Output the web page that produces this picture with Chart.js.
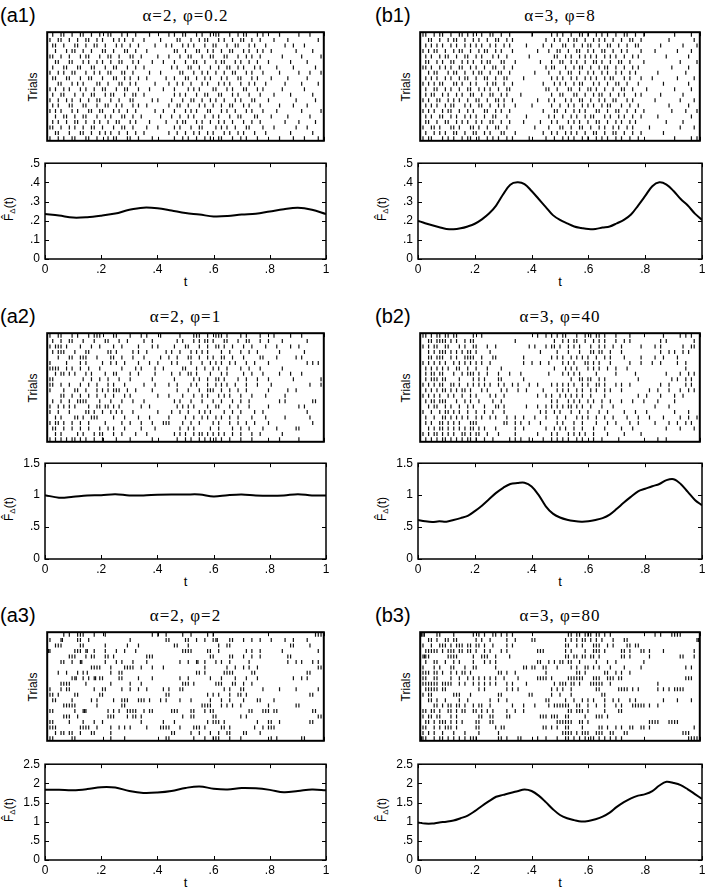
<!DOCTYPE html>
<html>
<head>
<meta charset="utf-8">
<script src="https://cdn.jsdelivr.net/npm/chart.js@4/dist/chart.umd.min.js"></script>
<style>
  body { margin: 0; background: #fff; width: 708px; height: 894px; position: relative; overflow: hidden; font-family: "Liberation Sans", Arial, sans-serif; color: #000; }
  canvas { position: absolute; }
  .lab { position: absolute; white-space: nowrap; line-height: 1; transform: translate(-50%, -50%); }
  .rot { font-size: 12px; transform: translate(-50%, -50%) rotate(-90deg); }
  .panel { font-size: 20px; transform: translate(0, -50%); }
  .title { font-family: "Liberation Serif", "Times New Roman", serif; font-size: 17px; letter-spacing: 1px; }
  .tl { font-size: 13px; }
  sub { font-size: 8px; vertical-align: -2px; }
</style>
</head>
<body>
<script>
// time grids of the estimated rate curves
const tA = [0, 0.05, 0.1, 0.15, 0.2, 0.25, 0.3, 0.35, 0.4, 0.45, 0.5, 0.55, 0.6, 0.65, 0.7, 0.75, 0.8, 0.85, 0.9, 0.95, 1];
const tB = [0, 0.025, 0.05, 0.075, 0.1, 0.125, 0.15, 0.175, 0.2, 0.225, 0.25, 0.275, 0.3, 0.325, 0.35, 0.375, 0.4,
  0.425, 0.45, 0.475, 0.5, 0.525, 0.55, 0.575, 0.6, 0.625, 0.65, 0.675, 0.7, 0.725, 0.75, 0.775, 0.8, 0.825, 0.85,
  0.875, 0.9, 0.925, 0.95, 0.975, 1];

const curveA1 = [0.235, 0.227, 0.216, 0.218, 0.226, 0.237, 0.257, 0.268, 0.265, 0.253, 0.24, 0.232, 0.222, 0.224, 0.232, 0.236, 0.248, 0.26, 0.267, 0.257, 0.235];
const curveA2 = [1.0, 0.96, 0.975, 0.995, 1.0, 1.015, 0.995, 0.995, 1.005, 1.01, 1.01, 1.01, 0.98, 1.0, 1.01, 0.995, 0.99, 0.995, 1.015, 0.995, 0.995];
const curveA3 = [1.83, 1.83, 1.82, 1.85, 1.9, 1.89, 1.8, 1.75, 1.76, 1.8, 1.88, 1.92, 1.86, 1.84, 1.88, 1.87, 1.83, 1.77, 1.8, 1.84, 1.82];
const curveB1 = [0.199, 0.187, 0.176, 0.166, 0.157, 0.155, 0.16, 0.17, 0.184, 0.207, 0.237, 0.279, 0.338, 0.388, 0.4, 0.391, 0.355,
  0.313, 0.271, 0.229, 0.204, 0.186, 0.17, 0.162, 0.156, 0.157, 0.164, 0.17, 0.186, 0.204, 0.232, 0.279, 0.329, 0.38, 0.4,
  0.388, 0.355, 0.313, 0.279, 0.237, 0.204];
const curveB2 = [0.61, 0.59, 0.58, 0.59, 0.585, 0.61, 0.64, 0.675, 0.75, 0.835, 0.935, 1.035, 1.115, 1.175, 1.19, 1.195, 1.135,
  1.0, 0.825, 0.71, 0.65, 0.615, 0.595, 0.585, 0.59, 0.61, 0.64, 0.695, 0.785, 0.885, 0.975, 1.06, 1.1, 1.14, 1.175,
  1.235, 1.25, 1.175, 1.05, 0.925, 0.84];
const curveB3 = [0.98, 0.95, 0.95, 0.98, 1.0, 1.03, 1.09, 1.16, 1.275, 1.41, 1.535, 1.65, 1.7, 1.75, 1.795, 1.84, 1.8,
  1.68, 1.51, 1.325, 1.175, 1.09, 1.04, 1.005, 1.02, 1.065, 1.13, 1.235, 1.385, 1.51, 1.61, 1.68, 1.72, 1.8, 1.945,
  2.04, 2.01, 1.955, 1.845, 1.72, 1.595];

// spike times per trial (top trial first), in hundredths of t
const spikesA1 = [
  [0,2,5,6,9,12,13,16,19,22,23,27,29,32,37,44,46,49,50,54,56,59,61,62,66,69,71,72,76,78,84,91,95],
  [1,4,5,8,11,14,15,18,20,24,26,28,31,35,41,47,48,52,55,57,58,62,64,67,70,71,74,77,82,87,98],
  [2,3,6,10,11,14,17,18,21,25,27,30,33,39,43,45,49,51,53,57,60,61,65,68,69,73,75,79,86,89,93],
  [0,3,7,9,10,13,16,20,21,24,28,29,32,36,46,47,50,54,55,58,60,63,66,67,71,73,76,78,81,90,96],
  [1,2,5,8,12,14,15,19,22,23,26,30,31,34,40,44,48,51,52,56,59,60,64,65,69,72,74,77,85,92,99],
  [3,4,8,9,13,15,18,20,23,26,27,31,33,38,42,46,50,53,54,57,61,63,64,68,70,73,76,80,88,94],
  [0,2,6,7,11,12,16,17,21,24,25,29,32,35,45,47,51,52,55,59,62,65,66,69,71,75,77,83,89,97],
  [1,4,6,9,10,14,17,19,22,23,27,28,31,37,41,48,49,53,56,58,61,64,67,68,72,74,78,84,91,95,99],
  [2,3,7,8,12,15,16,20,24,25,28,30,33,36,43,46,50,51,54,57,59,63,65,69,70,74,76,81,87,94],
  [0,4,5,9,11,13,18,19,22,26,27,30,32,39,44,47,49,52,56,58,62,64,66,70,73,75,79,86,92,98],
  [1,3,6,8,12,14,17,20,21,25,28,29,33,37,42,46,51,53,55,60,61,65,67,71,72,76,78,85,93],
  [2,5,6,10,13,16,17,21,23,24,28,31,32,35,46,48,50,54,57,58,62,63,67,69,73,77,82,88,96],
  [0,1,4,7,9,12,15,18,19,23,26,30,31,38,40,45,49,52,53,56,59,61,64,68,70,74,75,80,90,97],
  [2,4,8,9,13,14,18,21,22,25,27,31,33,36,44,47,48,51,55,57,60,63,66,67,71,73,77,84,89,94],
  [1,3,5,9,11,15,16,19,20,24,26,29,32,39,42,46,50,52,54,58,59,63,65,68,72,74,78,83,92,99],
  [0,3,6,7,10,13,14,18,21,23,27,28,31,34,41,45,48,51,53,57,60,62,66,69,70,75,76,81,87,95],
  [2,4,7,10,11,14,17,19,22,25,26,30,32,37,43,47,49,50,54,56,59,62,64,67,71,74,77,86,91,97],
  [1,2,5,8,10,13,16,17,20,24,27,28,31,36,40,46,48,52,55,56,61,63,65,68,72,73,78,82,90,94],
  [0,3,4,8,12,13,16,19,21,23,26,29,32,35,44,47,50,53,55,58,60,64,66,69,71,75,79,88,96],
  [1,4,6,9,10,14,15,18,22,24,25,29,30,33,38,46,49,51,54,57,59,62,63,67,70,72,76,84,89,93,98]
];
const spikesB1 = [
  [1,2,5,7,8,11,14,15,17,19,22,25,26,29,32,40,47,49,51,54,57,58,60,63,65,67,70,73,74,77,80,91,97],
  [0,3,4,7,10,12,13,16,19,21,24,27,28,31,33,45,48,50,53,55,56,59,62,64,66,69,72,75,76,79,89,98],
  [2,4,6,8,11,13,16,18,20,22,25,27,30,32,38,44,47,51,52,55,58,60,61,64,67,68,71,74,77,78,86,94,99],
  [1,3,5,6,9,12,14,15,18,21,23,24,27,29,33,42,46,49,50,53,56,57,60,62,65,66,69,72,74,79,84,92,97],
  [0,2,4,7,9,10,13,16,17,20,22,26,28,31,39,48,49,52,54,57,59,61,63,66,68,70,73,76,78,88,96],
  [2,3,6,8,11,12,15,17,19,22,24,25,29,30,34,43,47,50,51,54,56,59,62,63,65,68,71,72,75,80,93,99],
  [1,2,4,7,9,11,14,15,18,20,23,26,27,30,33,45,47,48,52,55,57,58,61,64,66,67,70,73,76,78,90,96],
  [0,3,5,6,10,12,13,16,19,21,22,25,28,29,32,41,46,50,53,54,57,60,62,65,67,70,72,75,77,85,95],
  [2,4,6,9,11,14,16,17,20,23,24,27,30,31,37,47,49,51,54,56,59,61,63,66,68,69,73,75,79,83,92,98],
  [1,3,5,7,8,12,13,15,18,20,24,26,27,30,33,44,48,50,52,55,57,58,62,64,67,70,71,74,78,87,96],
  [0,2,5,6,9,11,14,17,18,21,23,25,28,31,32,45,46,49,53,54,57,60,61,63,66,69,72,73,76,81,91,97],
  [2,4,5,8,10,13,15,18,19,22,25,26,29,31,36,47,50,51,55,56,59,62,64,65,68,71,73,77,79,86,94],
  [1,3,6,7,10,12,14,17,20,21,24,27,28,30,33,42,46,48,52,54,57,58,61,64,66,69,70,74,76,84,93,98],
  [0,2,4,6,9,11,12,16,18,21,22,25,28,30,34,40,47,50,53,55,58,60,62,65,67,68,72,75,78,89,96],
  [1,3,5,8,10,11,14,17,19,23,24,27,29,32,44,48,49,52,55,57,59,63,64,67,70,71,74,77,80,90,95,99],
  [0,2,4,7,8,11,13,16,18,20,23,26,27,31,38,46,48,51,54,56,59,61,62,66,68,71,73,76,79,85,97],
  [2,3,6,9,10,13,15,17,20,22,25,26,29,32,37,43,47,49,53,55,57,60,63,64,67,70,72,75,77,88,94],
  [1,4,5,7,11,12,14,18,19,21,24,27,28,31,41,46,50,51,54,57,58,61,64,66,69,71,74,76,82,93,98],
  [0,2,5,7,9,12,13,16,19,20,23,25,29,30,34,44,47,49,52,54,56,59,62,63,66,69,70,73,76,79,87],
  [1,3,4,8,10,12,15,17,18,21,24,26,28,31,33,39,45,48,51,53,55,58,60,63,65,67,70,72,75,78,91,97,99]
];
const spikesA2 = [
  [1,4,5,9,11,15,17,18,19,24,25,30,34,36,41,48,53,54,55,58,61,62,63,65,70,72,77,82,88,92],
  [2,5,8,9,13,17,21,22,26,29,35,38,47,49,53,55,57,58,60,64,65,69,72,73,77,80,85,94],
  [1,3,4,5,7,12,16,19,24,27,33,38,40,46,50,51,55,58,61,62,64,67,71,74,79,83,88,91],
  [0,2,4,5,6,10,14,15,22,23,25,31,33,36,43,45,48,52,54,56,58,63,66,70,73,76,84,93],
  [4,8,9,12,13,14,18,23,24,27,31,35,41,44,47,51,52,55,58,60,63,64,67,71,77,78,83,90,92],
  [1,7,12,14,20,23,25,28,33,37,40,45,47,52,56,59,61,63,66,68,72,75,80,94,96,98],
  [0,1,2,3,4,7,9,12,15,19,27,32,34,39,42,49,50,54,57,60,62,65,70,73,77,85],
  [3,5,6,8,10,14,16,21,24,25,30,33,39,45,48,51,52,54,59,63,65,71,74,78,84,88,92],
  [1,2,13,16,19,22,26,30,38,46,53,55,58,61,62,64,69,72,76,80,89,99],
  [0,1,2,5,8,12,15,18,22,24,28,35,39,44,47,52,54,58,61,63,65,68,72,76,81,95,99],
  [1,6,10,11,14,18,20,22,24,25,26,29,32,38,47,51,55,58,59,60,63,66,69,72,80,87,90],
  [0,5,6,9,12,15,18,21,24,28,30,40,44,49,53,56,58,62,64,66,70,74,79,86],
  [2,5,8,11,12,13,14,19,23,27,31,35,46,48,52,56,60,63,67,70,73,84,86,96,97],
  [1,4,6,8,10,15,18,19,21,22,24,26,34,37,47,49,51,53,58,61,62,66,69,73,80,91,93],
  [0,1,4,8,14,15,17,20,23,25,27,31,40,45,48,51,55,57,59,64,67,70,75,78,94],
  [3,5,10,11,13,16,17,18,24,28,33,37,44,50,53,56,58,61,63,66,69,74,79,86,95],
  [1,3,4,6,9,12,15,21,27,30,34,38,42,43,44,49,52,55,60,62,66,69,72,75,80,96],
  [2,3,6,9,12,15,19,22,24,28,34,39,48,51,53,59,62,67,70,73,78,83,90,91],
  [0,3,5,11,13,17,19,20,24,27,32,36,46,48,50,53,55,56,58,60,62,64,67,70,74,77,85],
  [1,3,5,7,9,10,12,14,17,20,25,30,38,47,50,52,55,57,59,61,63,66,70,74,84,91]
];
const spikesB2 = [
  [1,2,4,6,7,9,10,12,13,19,22,42,45,47,49,51,52,56,59,61,63,64,66,70,75,87,93,95,97],
  [3,4,6,7,8,9,11,13,16,18,19,34,48,51,53,55,56,59,62,64,66,70,73,75,86,88,98],
  [1,3,5,6,9,10,14,16,19,20,24,27,39,41,45,47,48,50,53,55,57,61,64,66,69,72,79,84,86,94,97,98],
  [0,3,5,7,8,9,11,13,15,17,18,20,25,43,49,53,57,61,62,64,65,68,72,86,89,91,94,96],
  [3,4,6,7,8,11,13,16,17,18,19,22,26,27,37,47,49,51,54,56,58,60,63,66,68,73,79,84,87,92],
  [1,3,5,7,9,12,14,16,18,20,22,25,37,40,43,46,51,53,55,59,60,62,64,68,75,79,83,86,92,95],
  [2,4,6,8,10,13,14,17,20,24,29,48,52,54,56,60,62,64,67,70,74,95],
  [0,2,4,5,7,8,12,15,17,18,19,21,24,28,32,36,46,51,53,55,57,63,70,77,88,93,96,98],
  [2,4,5,6,8,9,14,19,21,23,28,29,37,54,57,58,60,61,64,66,78,90,92,95,97],
  [1,3,5,7,8,11,12,14,17,19,21,23,25,28,30,33,35,39,42,47,49,51,53,55,58,60,63,64,66,70,72,75,86,89,95,97],
  [0,2,4,6,8,9,11,13,15,16,18,22,24,29,31,35,38,44,49,51,53,56,58,61,63,66,68,72,82,85,89,93,96,98],
  [1,3,5,7,10,12,15,18,20,25,27,30,42,45,47,50,52,54,56,58,61,66,78,81,86,91,94],
  [2,4,5,7,8,9,13,16,18,21,26,29,47,49,53,55,57,60,62,65,68,72,76,80,85,91],
  [0,3,5,6,9,11,14,17,19,23,27,28,30,38,42,45,47,49,51,53,54,56,58,61,65,69,84,89],
  [1,4,7,9,10,12,14,17,20,23,26,30,43,45,48,50,54,57,60,64,67,73,77,81,91,96],
  [0,2,5,8,9,11,13,15,17,20,22,25,27,31,34,37,41,45,49,52,56,58,60,63,66,69,74,78,82,87,93,96,99],
  [2,4,7,8,10,12,14,18,19,20,30,31,34,36,39,43,49,51,55,58,63,67,70,75,78,84,89,92,95,97],
  [0,3,5,7,8,10,12,14,16,18,19,21,23,27,34,37,45,48,50,52,55,58,62,66,72,76,88,93,98],
  [1,3,5,6,8,10,12,15,16,18,20,21,24,28,34,42,47,49,53,55,57,59,62,67,73,79],
  [0,2,4,6,8,9,11,13,15,17,18,20,23,26,32,34,36,39,44,47,49,51,53,56,58,62,65,71,85,88]
];
const spikesA3 = [
  [6,8,11,12,13,17,21,38,40,43,49,52,58,60,97,98,99],
  [0,1,5,5.5,11,12,15,30,43,44,50,51,54,57,60,61,61.5,66,67,71,74,77,81,86,89,94],
  [3,4,5,12,13,21,29,33,46,47,51,62,65,66,88,89,95],
  [0,0.5,1,10,11,12,14,14.5,17,21,25,28,32,49,50,51,52,58,59,62,72,74,77,85,98],
  [8,9,10,14,16,17,21,22,24,36,37,38,59,60,66,67,71,74,77,87,88],
  [0,5,6,9,12,12.5,21,25,27,31,36,48,51,54,54.5,57,61,63,66,73,87,90,92,96,98],
  [16,17,18,19,23,28,29,30,31,34,38,42,57,65,68,71,73,76,98,99],
  [4,7,11,13,14.5,23,26,27,54,55,57,64,65,66,67,74,75,94,95],
  [0,9,10,10.5,13,15,17,17.5,19,20,26,27,33,38,48,51,59,63,68,72,76,89,92,94],
  [5,6,7,8,14,23,30,34,49,50,51,53,61,62,63,67,68,71,74],
  [0,1,5,7,8,17,20,21,27,30,33,36,42,44,48,49,64,66,70,71,78,84,90,98],
  [0,1,2,4,10,11,19,20,43,44,58,60,62,66,69,70,72,95,96],
  [2,3,9,16,18,24,27,28,29,33,34,35,37,41,43,48,52,59,63,66,71,76,77,82],
  [6,7,8,9,10,18,27,28,56,57,58,59,63,65,67,70,80,90,91],
  [1,2,10,13,13.5,14,22,24,26,29,30,31,32,35,37,38,45,46,47,52,53,57,59,60,73,74,78,79,80,82,83,96,97],
  [6,7,8,11,22,23,24,29,31,32,34,49,52,53,60,61,70,72,98,99],
  [1,2,8,13,17,20,34,42,46,58,60,61,62,64,76,80,81,84,95,96],
  [1,2,3,12,13,14,15,18,23,26,28,30,36,41,42,43,44,48,53,54,55,57,63,64,66,75,78,80,81,82],
  [3,5,6,8,9,12,16,17,23,45,46,52,55,59,62,65,66,71,72,77],
  [0,1,2,9,10,23,28,43,44,53,57,60,61,62,66,70,81,83,92,93]
];
const spikesB3 = [
  [0,0.5,1,1.5,6,7,12,19,21,23,26,27,29,31,33,53,54,56,57,59,60,61,63,64,66,68,84,86,90,91,92,93],
  [3,4,6,9,10,12,13,20,22,25,31,34,40,41,52,54,56,58,59,61,63,65,69,73,74,99,99.5],
  [1,4,7,8,9,11,13,14,15,17,18,20,21,23,26,31,33,52,53,56,58,62,63,64,67,69,74,75,77,78],
  [0,2,3,4,5,6,8,10,11,12,14,15,17,18,20,23,25,29,31,42,43,44,52,54,59,62,63,64,66,72,73,75,79,80,82,87,98],
  [0,1,1.5,2,3,10,11,12,13,19,22,23,24,27,32,52,53,55,56,58,59,61,62,64,72,73,75,82,93,94,98],
  [2,5,6,9,12,14,19,23,25,27,42,43,46,48,50,51,53,54,57,63,67,70,80],
  [1,5,7,11,12,16,19,20,27,37,38,40,41,44,45,49,54,56,59,60,62,64,68,73,79,95,97],
  [0,1,2,3,5,6,8,11,13,15,16,18,28,29,31,34,45,56,57,59,66,67,70,72,75],
  [0,1,2,5,6,11,14,17,19,21,23,25,27,30,35,42,43,44,45,47,53,54,55,56,57,58,62,63,64,67,68,69,71,72,95,96,97],
  [1,2,3,4,5,6,8,9,10,11,14,16,19,21,23,25,27,31,33,38,48,50,51,52,54,55,57,61,62,63,64,65,68,85],
  [0,2,3,4,5,6,8,9,21,23,31,33,35,47,49,51,54,63,64,71,72,73,74,76,78,85,87,89,91,92,93,94],
  [0,1,3,4,12,13,14,18,28,29,39,40,47,50,54,65,66],
  [3,4,6,9,14,17,25,28,31,45,46,52,55,58,60,62,66,69,71,75,77,87,92,97],
  [5,6,8,10,11,13,14,16,19,21,22,25,33,37,41,46,48,49,50,51,52,53,56,57,60,63,66,70,72,76,77,78,79,80,82,85],
  [1,2,4,5,7,10,11,13,15,16,19,20,22,24,26,31,34,37,53,54,56,57,58,60,66,71,72],
  [0,1,3,4,6,7,11,13,21,22,25,26,31,32,43,44,45,47,48,49,52,53,59,63,64,65,67],
  [2,3,5,7,8,9,11,13,15,20,21,25,26,49,50,51,52,53,54,57,58,60,82,83,84,85,89,90,91,92],
  [1,2,5,7,9,10,11,13,20,21,27,29,30,44,45,47,49,52,53,58,64,65,67,70,72,75,76,79,80,82,98],
  [1,3,5,8,12,16,21,28,51,52,53,54,56,58,59,60,63,64,65,68,69,73,74,94,95,96],
  [0,0.5,1,2,5,7,8,10,12,14,16,18,19,20,28,29,31,35,36,42,45,49,52,53,55,57,59,61,62,64,66,68,70,72,96,97,98,99]
];

const xTickVals = [0, 0.2, 0.4, 0.6, 0.8, 1];
const xTickLabels = ['0', '.2', '.4', '.6', '.8', '1'];
const yVals1 = [0, 0.1, 0.2, 0.3, 0.4, 0.5];
const yLabels1 = ['0', '.1', '.2', '.3', '.4', '.5'];
const yVals2 = [0, 0.5, 1, 1.5];
const yLabels2 = ['0', '.5', '1', '1.5'];
const yVals3 = [0, 0.5, 1, 1.5, 2, 2.5];
const yLabels3 = ['0', '.5', '1', '1.5', '2', '2.5'];

const panelLabels = ['(a1)', '(b1)', '(a2)', '(b2)', '(a3)', '(b3)'];
const titles = ['α=2, φ=0.2', 'α=3, φ=8', 'α=2, φ=1', 'α=3, φ=40', 'α=2, φ=2', 'α=3, φ=80'];

const panels = [
  { spikes: spikesA1, t: tA, curve: curveA1, yv: yVals1, yl: yLabels1 },
  { spikes: spikesB1, t: tB, curve: curveB1, yv: yVals1, yl: yLabels1 },
  { spikes: spikesA2, t: tA, curve: curveA2, yv: yVals2, yl: yLabels2 },
  { spikes: spikesB2, t: tB, curve: curveB2, yv: yVals2, yl: yLabels2 },
  { spikes: spikesA3, t: tA, curve: curveA3, yv: yVals3, yl: yLabels3 },
  { spikes: spikesB3, t: tB, curve: curveB3, yv: yVals3, yl: yLabels3 }
];

// layout (px)
const colX = [45, 418], colW = [281, 284], labelX = [0, 375];
const rasterTop = [30, 331, 630], rasterH = 113;
const lineTop = [159, 459, 760], lineH = 100;

Chart.defaults.font.family = '"Liberation Sans", Arial, sans-serif';
Chart.defaults.font.size = 12;
Chart.defaults.color = '#000';

// box + inward ticks, MATLAB style
const frame = {
  id: 'frame',
  afterDatasetsDraw(chart, args, opts) {
    const { ctx, chartArea: a, scales } = chart;
    ctx.save();
    ctx.strokeStyle = '#000';
    ctx.lineWidth = 1;
    ctx.beginPath();
    for (const v of opts.xt) {
      const px = Math.round(scales.x.getPixelForValue(v)) + 0.5;
      ctx.moveTo(px, a.bottom); ctx.lineTo(px, a.bottom - 4);
      ctx.moveTo(px, a.top); ctx.lineTo(px, a.top + 4);
    }
    if (opts.yt) {
      for (const v of opts.yt) {
        const py = Math.round(scales.y.getPixelForValue(v)) + 0.5;
        ctx.moveTo(a.left, py); ctx.lineTo(a.left + 4, py);
        ctx.moveTo(a.right, py); ctx.lineTo(a.right - 4, py);
      }
    }
    ctx.stroke();
    ctx.lineWidth = opts.border;
    ctx.strokeRect(a.left, a.top, a.right - a.left, a.bottom - a.top);
    ctx.restore();
  }
};

function addCanvas(x, y, w, h) {
  const c = document.createElement('canvas');
  c.width = w; c.height = h;
  c.style.left = x + 'px'; c.style.top = y + 'px';
  c.style.width = w + 'px'; c.style.height = h + 'px';
  document.body.appendChild(c);
  return c;
}

function addLabel(html, x, y, cls) {
  const d = document.createElement('div');
  d.className = 'lab ' + (cls || '');
  d.innerHTML = html;
  d.style.left = x + 'px'; d.style.top = y + 'px';
  document.body.appendChild(d);
}

panels.forEach((p, k) => {
  const col = k % 2, row = Math.floor(k / 2);
  const x0 = colX[col], w = colW[col];
  const nTrials = p.spikes.length;

  addLabel(panelLabels[k], labelX[col], rasterTop[row] - 15, 'panel');
  addLabel(titles[k], x0 + w / 2, rasterTop[row] - 15, 'title');
  addLabel('Trials', x0 - 12, rasterTop[row] + rasterH / 2, 'rot');
  addLabel('F&#770;<sub>Δ</sub>(t)', x0 - 35, lineTop[row] + lineH / 2, 'rot');
  addLabel('t', x0 + w / 2, lineTop[row] + lineH + 22, 'tl');

  // raster
  const pts = [];
  p.spikes.forEach((trial, i) => {
    trial.forEach(s => pts.push({ x: s / 100, y: nTrials - i }));
  });
  const pad = 3;
  new Chart(addCanvas(x0 - pad, rasterTop[row] - pad, w + 2 * pad, rasterH + 2 * pad), {
    type: 'scatter',
    data: {
      datasets: [{
        data: pts,
        pointStyle: 'line',
        rotation: 90,
        radius: 2,
        borderWidth: 1.2,
        borderColor: '#111',
        backgroundColor: '#111'
      }]
    },
    options: {
      animation: false,
      responsive: false,
      devicePixelRatio: 1,
      events: [],
      layout: { padding: pad },
      plugins: { legend: { display: false }, tooltip: { enabled: false }, frame: { xt: xTickVals, border: 2 } },
      scales: {
        x: { type: 'linear', min: 0, max: 1, display: false },
        y: { type: 'linear', min: 0.55, max: nTrials + 0.45, display: false }
      }
    },
    plugins: [frame]
  });

  // rate curve
  const left = 45, top = 8, right = 10, bottom = 22;
  new Chart(addCanvas(x0 - left, lineTop[row] - top, w + left + right, lineH + top + bottom), {
    type: 'line',
    data: {
      datasets: [{
        data: p.t.map((t, i) => ({ x: t, y: p.curve[i] })),
        borderColor: '#000',
        borderWidth: 2,
        pointRadius: 0,
        tension: 0.35,
        fill: false
      }]
    },
    options: {
      animation: false,
      responsive: false,
      devicePixelRatio: 1,
      events: [],
      layout: { padding: { top: top, right: right, left: 0, bottom: 0 } },
      plugins: { legend: { display: false }, tooltip: { enabled: false }, frame: { xt: xTickVals, yt: p.yv, border: 1.5 } },
      scales: {
        x: {
          type: 'linear', min: 0, max: 1,
          grid: { display: false, drawTicks: false },
          border: { display: false },
          afterBuildTicks: s => { s.ticks = xTickVals.map(v => ({ value: v })); },
          afterFit: s => { s.height = bottom; },
          ticks: { autoSkip: false, maxRotation: 0, padding: 3, callback: (v, i) => xTickLabels[i] }
        },
        y: {
          type: 'linear', min: 0, max: p.yv[p.yv.length - 1],
          grid: { display: false, drawTicks: false },
          border: { display: false },
          afterBuildTicks: s => { s.ticks = p.yv.map(v => ({ value: v })); },
          afterFit: s => { s.width = left; },
          ticks: { autoSkip: false, padding: 5, callback: (v, i) => p.yl[i] }
        }
      }
    },
    plugins: [frame]
  });
});
</script>
</body>
</html>
